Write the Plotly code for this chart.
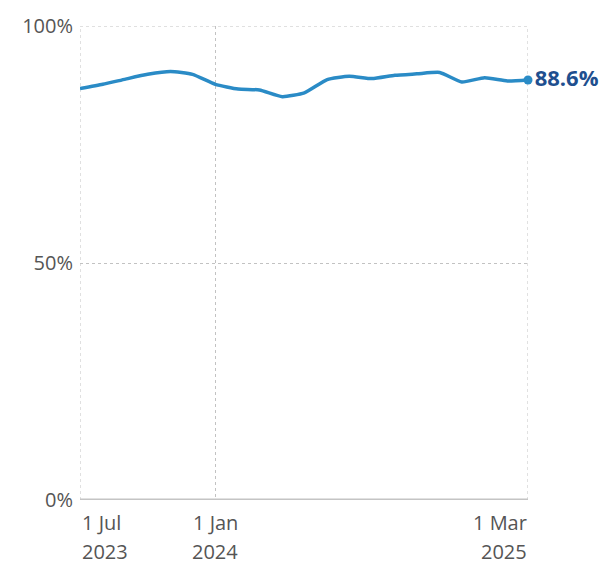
import plotly.graph_objects as go

# Monthly share, July 2023 to March 2025
months = [
    "2023-07-01", "2023-08-01", "2023-09-01", "2023-10-01", "2023-11-01", "2023-12-01",
    "2024-01-01", "2024-02-01", "2024-03-01", "2024-04-01", "2024-05-01", "2024-06-01",
    "2024-07-01", "2024-08-01", "2024-09-01", "2024-10-01", "2024-11-01", "2024-12-01",
    "2025-01-01", "2025-02-01", "2025-03-01",
]
share = [
    86.8, 87.7, 88.8, 89.8, 90.4, 89.8,
    87.7, 86.7, 86.5, 85.1, 85.9, 88.7,
    89.4, 88.9, 89.6, 89.9, 90.2, 88.2,
    89.1, 88.4, 88.6,
]

x_ticks = ["2023-07-01", "2024-01-01", "2025-03-01"]
x_tick_line1 = ["1 Jul", "1 Jan", "1 Mar"]
x_tick_line2 = ["2023", "2024", "2025"]
x_tick_anchor = ["left", "center", "right"]
y_ticks = [0, 50, 100]
y_tick_text = ["0%", "50%", "100%"]

LINE = "#2a8bc6"
LABEL = "#1f4f8f"
TEXT = "#555555"
GRID = "#c2c2c2"
FONT = "Open Sans"

fig = go.Figure()
fig.add_trace(go.Scatter(
    x=months, y=share, mode="lines",
    line=dict(color=LINE, width=3.5, shape="spline", smoothing=0.5),
    hoverinfo="skip", cliponaxis=False,
))
fig.add_trace(go.Scatter(
    x=[months[-1]], y=[share[-1]], mode="markers+text",
    marker=dict(color=LINE, size=9),
    text=[f"{share[-1]:.1f}%"], textposition="middle right",
    textfont=dict(family=FONT, size=22, color=LABEL, weight="bold"),
    cliponaxis=False, hoverinfo="skip",
))

# Two-line date labels under the axis
for xv, l1, l2, anc in zip(x_ticks, x_tick_line1, x_tick_line2, x_tick_anchor):
    for txt, shift in ((l1, -22), (l2, -51)):
        fig.add_annotation(
            x=xv, y=0, xref="x", yref="paper", yanchor="middle", xanchor=anc,
            yshift=shift, xshift=1 if anc == "left" else 0, borderpad=0,
            text=txt, showarrow=False,
            font=dict(family=FONT, size=20, color=TEXT),
        )

fig.update_layout(
    width=608, height=566,
    margin=dict(l=80, r=80, t=24, b=66),
    paper_bgcolor="white", plot_bgcolor="white",
    showlegend=False,
    font=dict(family=FONT, size=20, color=TEXT),
    xaxis=dict(
        type="date", range=["2023-07-01", "2025-03-01"],
        tickvals=x_ticks, showticklabels=False,
        showgrid=True, gridcolor=GRID, griddash="dot", gridwidth=1,
        zeroline=False, showline=False, ticks="",
    ),
    yaxis=dict(
        range=[0, 100], tickvals=y_ticks, ticktext=y_tick_text,
        showgrid=True, gridcolor=GRID, griddash="dot", gridwidth=1,
        zeroline=False, showline=False, ticks="", ticklabelstandoff=6,
        tickfont=dict(family=FONT, size=20, color=TEXT),
    ),
)

# Grid lines that sit on the plot edges
for xv in (x_ticks[0], x_ticks[-1]):
    fig.add_shape(type="line", xref="x", yref="paper", x0=xv, x1=xv, y0=0, y1=1,
                  line=dict(color=GRID, width=1, dash="dot"), layer="below")
fig.add_shape(type="line", xref="paper", yref="y", x0=0, x1=1, y0=100, y1=100,
              line=dict(color=GRID, width=1, dash="dot"), layer="below")
# Solid baseline at 0%
fig.add_shape(type="line", xref="paper", yref="y", x0=0, x1=1, y0=0, y1=0,
              line=dict(color="#c4c4c4", width=3), layer="below")

fig.write_html("out.html")
